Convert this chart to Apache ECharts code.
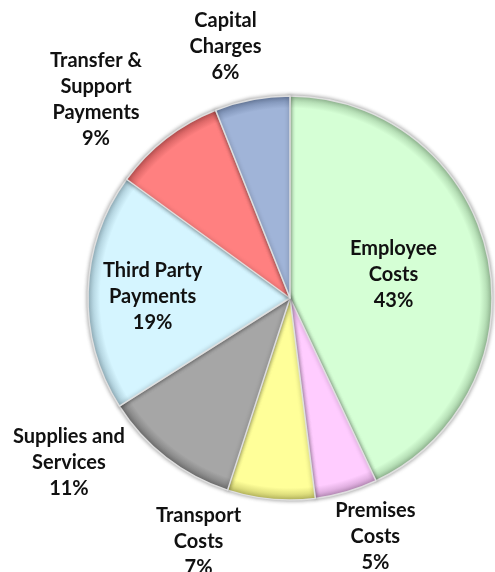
<!DOCTYPE html>
<html>
<head>
<meta charset="utf-8">
<script src="https://cdn.jsdelivr.net/npm/echarts@6/dist/echarts.min.js"></script>
<style>
html,body{margin:0;padding:0;background:#fff;}
#chart{width:495px;height:572px;}
</style>
</head>
<body>
<div id="chart"></div>
<script>
var categories = ['Employee\nCosts', 'Premises\nCosts', 'Transport\nCosts', 'Supplies and\nServices', 'Third Party\nPayments', 'Transfer &\nSupport\nPayments', 'Capital\nCharges'];
var values = [43, 5, 7, 11, 19, 9, 6];
var colors = ['#d5ffd5', '#ffccff', '#ffff99', '#a6a6a6', '#d5f5ff', '#ff8080', '#a0b4d8'];
var rimColors = ['#a0c8a0', '#c898c8', '#c4c466', '#767676', '#a0c0cc', '#c45656', '#7084a8'];
// label placement (style): angle in degrees clockwise from top, distance as fraction of radius
var labelAngle = [77.4, 160.3, 200.6, 233.3, 270.4, 315.7, 345.6];
var labelDist = [0.525, 1.254, 1.286, 1.365, 0.68, 1.375, 1.284];

var CX = 290, CY = 298, R = 202;

var chart = echarts.init(document.getElementById('chart'));
var data = values.map(function (v, i) {
  return {
    name: categories[i],
    value: v,
    itemStyle: {
      color: {
        type: 'radial', x: CX, y: CY, r: R, global: true,
        colorStops: [
          { offset: 0, color: colors[i] },
          { offset: 0.94, color: colors[i] },
          { offset: 1, color: rimColors[i] }
        ]
      }
    }
  };
});

chart.setOption({
  backgroundColor: '#ffffff',
  animation: false,
  series: [{
    type: 'pie',
    center: [CX, CY],
    radius: [0, R],
    startAngle: 90,
    clockwise: true,
    data: data,
    itemStyle: {
      borderColor: 'rgba(225,225,225,0.95)',
      borderWidth: 1.5,
      shadowBlur: 4,
      shadowColor: 'rgba(0,0,0,0.4)'
    },
    label: {
      show: true,
      position: 'inside',
      formatter: function (p) { return p.name + '\n' + p.value + '%'; },
      fontFamily: 'Lato',
      fontWeight: 'bold',
      fontSize: 20,
      lineHeight: 26,
      color: '#111',
      align: 'center'
    },
    labelLine: { show: false },
    labelLayout: function (params) {
      var i = params.dataIndex;
      var a = labelAngle[i] * Math.PI / 180;
      var d = labelDist[i] * R;
      return {
        x: CX + d * Math.sin(a),
        y: CY - d * Math.cos(a),
        align: 'center',
        verticalAlign: 'middle'
      };
    }
  }]
});
</script>
</body>
</html>
